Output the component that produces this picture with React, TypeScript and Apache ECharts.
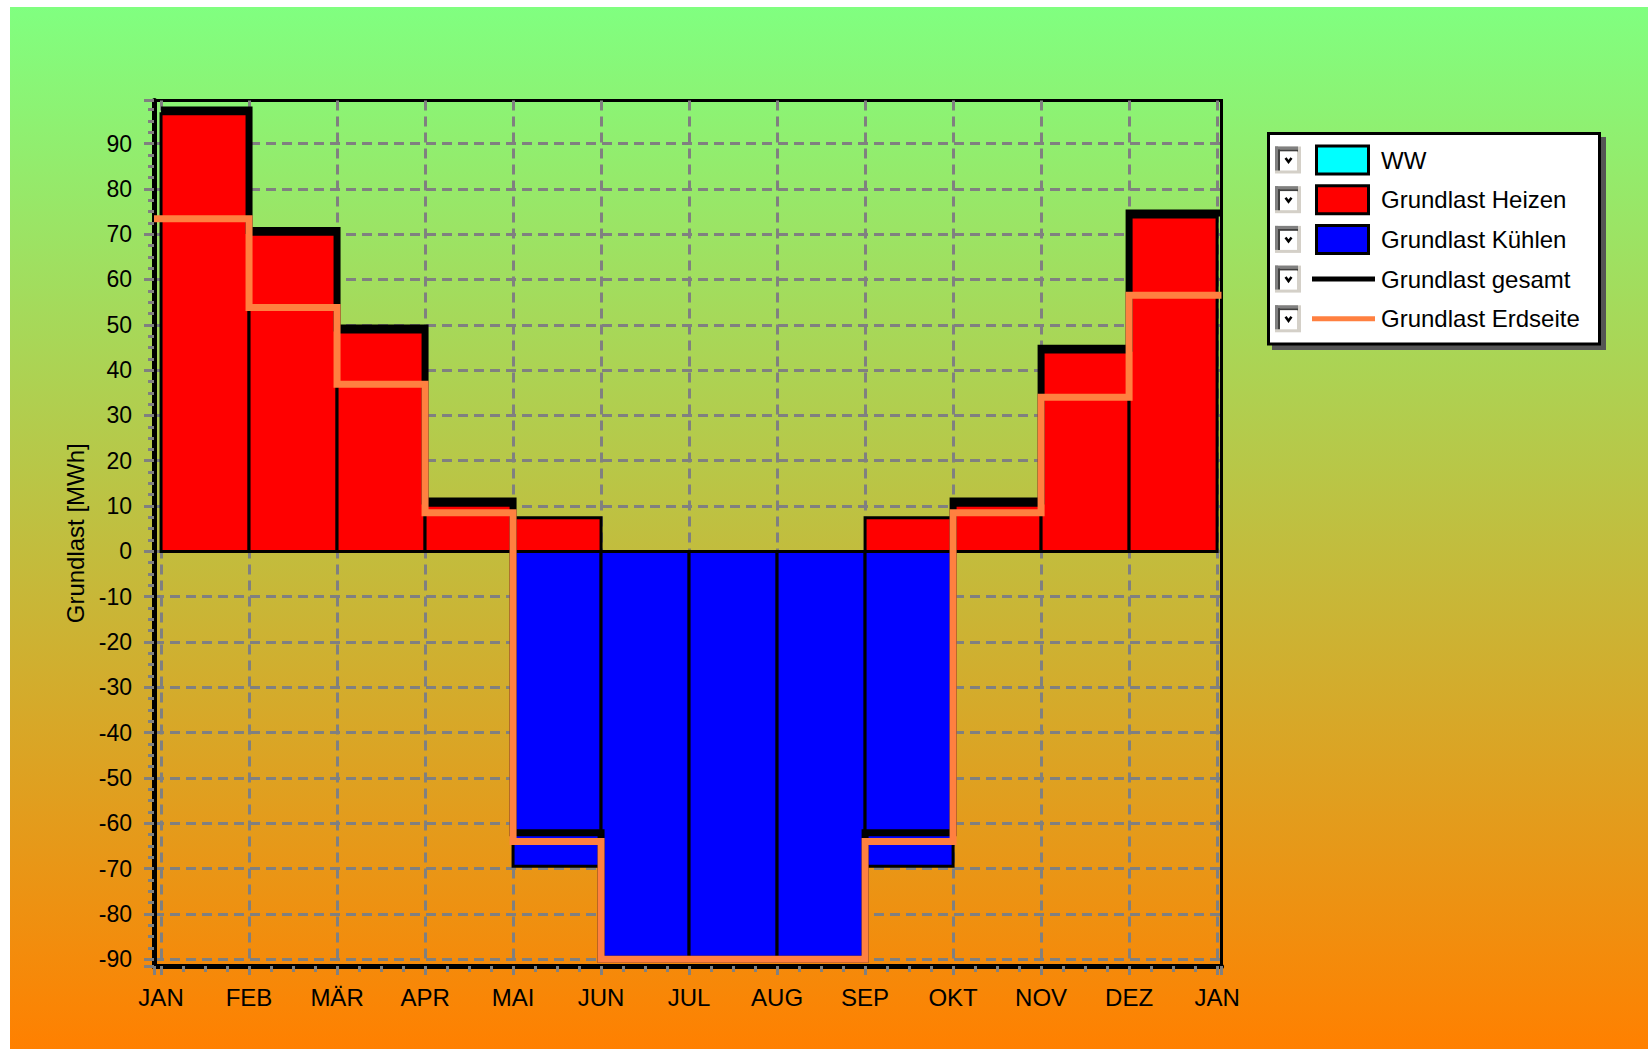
import React, { useEffect, useRef } from "react";
import * as echarts from "echarts";

// Month boundaries shown on the x axis (bars sit between two boundaries)
const monthLabels = ["JAN", "FEB", "MÄR", "APR", "MAI", "JUN", "JUL", "AUG", "SEP", "OKT", "NOV", "DEZ", "JAN"];

// Monthly loads in MWh
const wwValues = [0, 0, 0, 0, 0, 0, 0, 0, 0, 0, 0, 0];
const heizenValues = [96.6, 70.0, 48.4, 10.2, 7.4, 0, 0, 0, 7.4, 10.2, 44.0, 73.8];
const kuehlenValues = [0, 0, 0, 0, -69.5, -90, -90, -90, -69.5, 0, 0, 0];
const gesamtValues = [97.4, 70.8, 49.3, 11.1, -62.1, -90, -90, -90, -62.1, 11.1, 44.8, 74.7];
const erdseiteValues = [73.4, 53.8, 36.9, 8.5, -64.0, -90, -90, -90, -64.0, 8.5, 34.0, 56.5];

const seriesNames = ["WW", "Grundlast Heizen", "Grundlast Kühlen", "Grundlast gesamt", "Grundlast Erdseite"];

const Y_MIN = -91.5;
const Y_MAX = 99.5;
const X_MIN = -0.08;
const X_MAX = 12.05;

const FONT = "'Liberation Sans', Arial, sans-serif";
const GRID_GRAY = "#808080";
const COLORS = {
  ww: "#00FFFF",
  heizen: "#FF0000",
  kuehlen: "#0000FF",
  gesamt: "#000000",
  erdseite: "#FF8040",
};

function monthBars(name: string, values: number[], color: string) {
  return {
    type: "custom",
    name,
    z: 2,
    data: values.map((v, i) => [i, v]),
    encode: { x: 0, y: 1 },
    renderItem: (_params: any, api: any) => {
      const i = api.value(0);
      const v = api.value(1);
      if (!v) return null;
      const a = api.coord([i, 0]);
      const b = api.coord([i + 1, v]);
      return {
        type: "rect",
        shape: {
          x: a[0],
          y: Math.min(a[1], b[1]),
          width: b[0] - a[0],
          height: Math.abs(b[1] - a[1]),
        },
        style: { fill: color, stroke: "#000", lineWidth: 3 },
      };
    },
  };
}

function stepLine(name: string, values: number[], color: string, start: number, end: number, z: number) {
  const pts: number[][] = values.map((v, i) => [i === 0 ? start : i, v]);
  pts.push([end, values[values.length - 1]]);
  return {
    type: "line",
    name,
    step: "end",
    z,
    data: pts,
    symbol: "none",
    itemStyle: { color },
    lineStyle: { color, width: 7, join: "miter", cap: "butt" },
  };
}

function legendGraphics() {
  const els: any[] = [];
  // shadow and box
  els.push({ type: "rect", z: 100, silent: true, shape: { x: 1272, y: 137, width: 334, height: 213 }, style: { fill: "#555" } });
  els.push({
    type: "rect",
    z: 101,
    silent: true,
    shape: { x: 1268.5, y: 133.5, width: 331, height: 210.5 },
    style: { fill: "#fff", stroke: "#000", lineWidth: 3 },
  });
  const kinds = [
    { kind: "box", color: COLORS.ww },
    { kind: "box", color: COLORS.heizen },
    { kind: "box", color: COLORS.kuehlen },
    { kind: "line", color: COLORS.gesamt },
    { kind: "line", color: COLORS.erdseite },
  ];
  kinds.forEach((k, i) => {
    const cy = 160 + i * 39.7;
    // checkbox
    els.push({ type: "rect", z: 102, silent: true, shape: { x: 1275, y: cy - 13.5, width: 26, height: 27 }, style: { fill: "#D4D0C8" } });
    els.push({ type: "rect", z: 103, silent: true, shape: { x: 1275, y: cy - 13.5, width: 23, height: 3 }, style: { fill: "#808080" } });
    els.push({ type: "rect", z: 103, silent: true, shape: { x: 1275, y: cy - 13.5, width: 3, height: 24 }, style: { fill: "#808080" } });
    els.push({ type: "rect", z: 103, silent: true, shape: { x: 1278, y: cy - 10.5, width: 20, height: 2 }, style: { fill: "#404040" } });
    els.push({ type: "rect", z: 103, silent: true, shape: { x: 1278, y: cy - 10.5, width: 2, height: 21 }, style: { fill: "#404040" } });
    els.push({ type: "rect", z: 104, silent: true, shape: { x: 1280, y: cy - 8.5, width: 17, height: 19 }, style: { fill: "#fff" } });
    els.push({
      type: "polyline",
      z: 105,
      silent: true,
      shape: { points: [[1285.5, cy - 2], [1288.5, cy + 2], [1291.5, cy - 2]] },
      style: { stroke: "#000", lineWidth: 2.5, fill: null },
    });
    // symbol
    if (k.kind === "box") {
      els.push({
        type: "rect",
        z: 104,
        silent: true,
        shape: { x: 1316.5, y: cy - 14, width: 52, height: 28 },
        style: { fill: k.color, stroke: "#000", lineWidth: 3 },
      });
    } else {
      els.push({
        type: "line",
        z: 104,
        silent: true,
        shape: { x1: 1312, y1: cy, x2: 1375, y2: cy },
        style: { stroke: k.color, lineWidth: 5 },
      });
    }
    els.push({
      type: "text",
      z: 105,
      silent: true,
      x: 1381,
      y: cy,
      style: { text: seriesNames[i], fill: "#000", font: `24px ${FONT}`, textVerticalAlign: "middle", verticalAlign: "middle", align: "left" },
    });
  });
  return els;
}

export default function App() {
  const ref = useRef<HTMLDivElement>(null);

  useEffect(() => {
    if (!ref.current) return;
    const chart = echarts.init(ref.current, undefined, { renderer: "svg" });
    const option: any = {
      animation: false,
      backgroundColor: "#fff",
      textStyle: { fontFamily: FONT },
      grid: {
        left: 154,
        top: 100.5,
        width: 1067.5,
        height: 865.5,
        show: true,
        borderColor: "#000",
        borderWidth: 3,
        backgroundColor: "transparent",
        outerBoundsMode: "none",
        containLabel: false,
      },
      xAxis: {
        type: "value",
        min: X_MIN,
        max: X_MAX,
        splitNumber: 12,
        minInterval: 1,
        maxInterval: 1,
        axisLine: { show: true, onZero: false, lineStyle: { color: "#000", width: 5 } },
        axisTick: { show: true, length: 9, lineStyle: { color: GRID_GRAY, width: 3 } },
        minorTick: { show: true, splitNumber: 4, length: 6, lineStyle: { color: GRID_GRAY, width: 3 } },
        axisLabel: {
          margin: 19,
          color: "#000",
          fontSize: 24,
          fontFamily: FONT,
          formatter: (v: number) => {
            const r = Math.round(v);
            return Math.abs(v - r) < 1e-6 && r >= 0 && r < monthLabels.length ? monthLabels[r] : "";
          },
        },
        splitLine: {
          show: true,
          showMinLine: false,
          showMaxLine: false,
          lineStyle: { color: GRID_GRAY, width: 3, type: [10, 6] },
        },
      },
      yAxis: {
        type: "value",
        min: Y_MIN,
        max: Y_MAX,
        splitNumber: 19,
        minInterval: 10,
        maxInterval: 10,
        name: "Grundlast [MWh]",
        nameLocation: "middle",
        nameGap: 66,
        nameTextStyle: { color: "#000", fontSize: 24, fontFamily: FONT },
        axisLine: { show: true, onZero: false, lineStyle: { color: "#000", width: 5 } },
        axisTick: { show: true, length: 10, lineStyle: { color: GRID_GRAY, width: 3 } },
        minorTick: { show: true, splitNumber: 4, length: 6, lineStyle: { color: GRID_GRAY, width: 3 } },
        axisLabel: {
          margin: 22,
          color: "#000",
          fontSize: 23,
          fontFamily: FONT,
          formatter: (v: number) => {
            const r = Math.round(v);
            return Math.abs(v - r) < 1e-6 && r % 10 === 0 ? String(r === 0 ? 0 : r) : "";
          },
        },
        splitLine: {
          show: true,
          showMinLine: false,
          showMaxLine: false,
          lineStyle: { color: GRID_GRAY, width: 3, type: [10, 6] },
        },
      },
      graphic: {
        elements: [
          {
            type: "rect",
            z: -10,
            zlevel: 0,
            silent: true,
            shape: { x: 10, y: 7, width: 1638, height: 1042 },
            style: {
              fill: {
                type: "linear",
                x: 0,
                y: 0,
                x2: 0,
                y2: 1,
                colorStops: [
                  { offset: 0, color: "#80FF80" },
                  { offset: 1, color: "#FF8000" },
                ],
              },
            },
          },
          ...legendGraphics(),
        ],
      },
      series: [
        monthBars(seriesNames[0], wwValues, COLORS.ww),
        monthBars(seriesNames[1], heizenValues, COLORS.heizen),
        monthBars(seriesNames[2], kuehlenValues, COLORS.kuehlen),
        stepLine(seriesNames[3], gesamtValues, COLORS.gesamt, 0, X_MAX, 3),
        stepLine(seriesNames[4], erdseiteValues, COLORS.erdseite, X_MIN, X_MAX, 4),
      ],
    };
    chart.setOption(option);
    return () => chart.dispose();
  }, []);

  return (
    <div
      ref={ref}
      style={{ position: "fixed", left: 0, top: 0, width: 1648, height: 1049 }}
    />
  );
}
